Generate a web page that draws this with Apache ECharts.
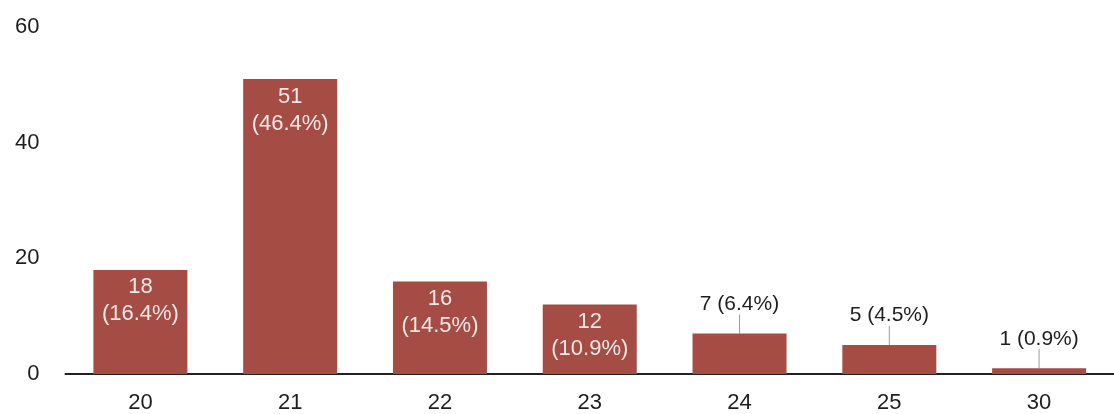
<!DOCTYPE html>
<html>
<head>
<meta charset="utf-8">
<script src="https://cdn.jsdelivr.net/npm/echarts@6/dist/echarts.min.js"></script>
<style>
html,body{margin:0;padding:0;background:#fff;}
#c{width:1114px;height:414px;}
</style>
</head>
<body>
<div id="c"></div>
<script>
const categories = ['20', '21', '22', '23', '24', '25', '30'];
const counts = [18, 51, 16, 12, 7, 5, 1];
const percents = ['16.4%', '46.4%', '14.5%', '10.9%', '6.4%', '4.5%', '0.9%'];
const yTicks = [0, 20, 40, 60];
const insideThreshold = 10;
const FONT = 'Liberation Sans, Arial, sans-serif';

const chart = echarts.init(document.getElementById('c'), null, {renderer: 'canvas'});

const data = counts.map((v, i) => {
  const inside = v >= insideThreshold;
  return {
    value: v,
    label: inside ? {
      show: true,
      position: 'insideTop',
      distance: 4,
      color: '#f4e8e6',
      fontSize: 22,
      lineHeight: 27,
      fontFamily: FONT,
      formatter: v + '\n(' + percents[i] + ')'
    } : {
      show: true,
      position: 'top',
      distance: 5,
      color: '#1e1e1e',
      fontSize: 21,
      fontFamily: FONT,
      formatter: v + ' (' + percents[i] + ')'
    },
    labelLine: {show: !inside, lineStyle: {color: '#9a9a9a', width: 1}}
  };
});

chart.setOption({
  animation: false,
  grid: {left: 65.5, right: -3, top: 27, bottom: 40, containLabel: false},
  xAxis: {
    type: 'category',
    data: categories,
    axisLine: {show: true, lineStyle: {color: '#222', width: 2}},
    axisTick: {show: false},
    axisLabel: {color: '#1e1e1e', fontSize: 22, margin: 18, fontFamily: FONT}
  },
  yAxis: {
    type: 'value',
    min: yTicks[0],
    max: yTicks[yTicks.length - 1],
    interval: 20,
    axisLine: {show: false},
    axisTick: {show: false},
    splitLine: {show: false},
    axisLabel: {color: '#1e1e1e', fontSize: 22, margin: 26, align: 'right', fontFamily: FONT}
  },
  series: [{
    type: 'bar',
    data: data,
    barWidth: 94,
    itemStyle: {color: '#a54c44'},
    labelLayout: function (p) {
      return counts[p.dataIndex] >= insideThreshold ? {} : {dy: -14};
    },
    z: 2
  }]
});
</script>
</body>
</html>
